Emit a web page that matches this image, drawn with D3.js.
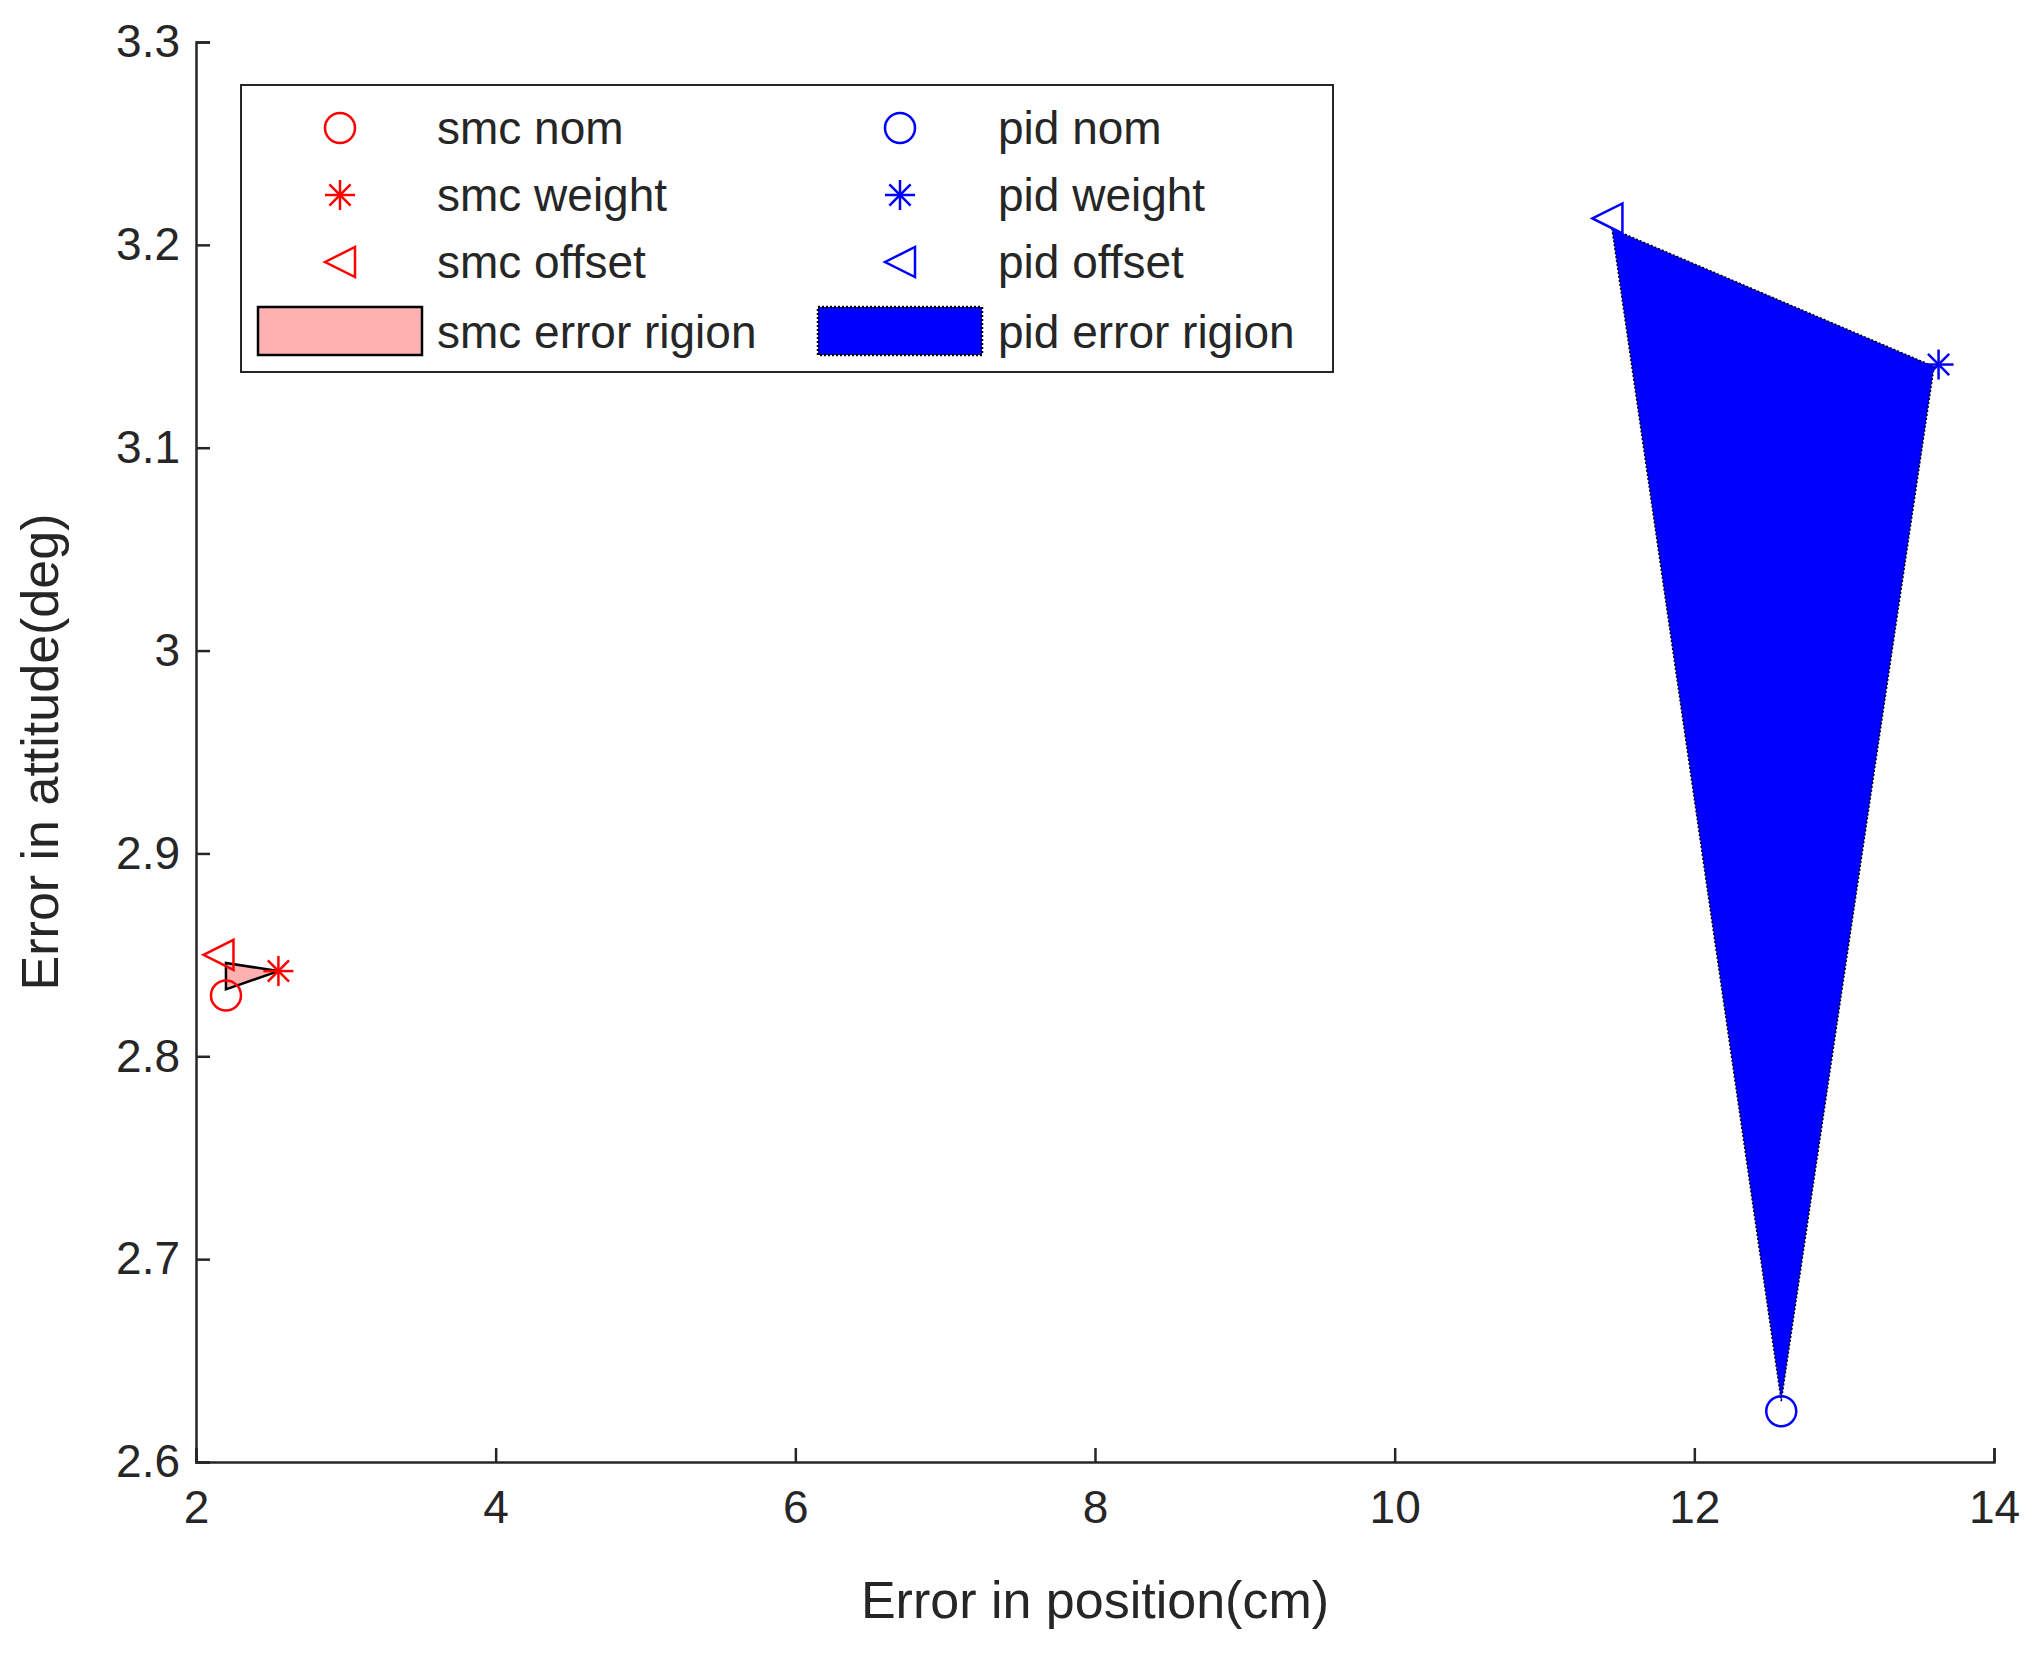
<!DOCTYPE html>
<html><head><meta charset="utf-8">
<script src="https://cdn.jsdelivr.net/npm/d3@7"></script>
<style>body{margin:0;background:#fff}text{font-family:"Liberation Sans",Arial,sans-serif;fill:#262626}</style>
</head><body><svg id="c" width="2036" height="1653"></svg>
<script>
const smcPoints = [{name: 'smc nom', x: 2.2, y: 2.83, shape: 'circle'},
  {name: 'smc weight', x: 2.55, y: 2.842, shape: 'star'},
  {name: 'smc offset', x: 2.15, y: 2.85, shape: 'tri'}];
const pidPoints = [{name: 'pid nom', x: 12.58, y: 2.625, shape: 'circle'},
  {name: 'pid weight', x: 13.63, y: 3.141, shape: 'star'},
  {name: 'pid offset', x: 11.42, y: 3.213, shape: 'tri'}];
const smcRegion = [[2.2, 2.833], [2.2, 2.846], [2.55, 2.842]];
const pidRegion = [[12.58, 2.63], [13.6, 3.14], [11.45, 3.208]];
const xTicks = [2, 4, 6, 8, 10, 12, 14];
const yTicks = [2.6, 2.7, 2.8, 2.9, 3, 3.1, 3.2, 3.3];

const svg = d3.select('#c');
const m = {l: 196, r: 1994, t: 42, b: 1462};
const x = d3.scaleLinear().domain([2, 14]).range([m.l, m.r]);
const y = d3.scaleLinear().domain([2.6, 3.3]).range([m.b, m.t]);

const line = d3.line().x(d => x(d[0])).y(d => y(d[1]));
svg.append('path').attr('d', line(pidRegion) + 'Z').attr('fill', '#0000ff')
  .attr('stroke', '#000').attr('stroke-width', 1.5).attr('stroke-dasharray', '2,2');
svg.append('path').attr('d', line(smcRegion) + 'Z').attr('fill', '#ffb0b0')
  .attr('stroke', '#000').attr('stroke-width', 2.5);

function marker(g, shape, color, s) {
  if (shape === 'circle') g.append('circle').attr('r', s).attr('fill', 'none').attr('stroke', color).attr('stroke-width', 2.5);
  else if (shape === 'tri') g.append('path').attr('d', `M${-s},0L${s},${-s}L${s},${s}Z`).attr('fill', 'none').attr('stroke', color).attr('stroke-width', 2.5);
  else {
    for (let a = 0; a < 180; a += 45) {
      const r = a * Math.PI / 180;
      g.append('line').attr('x1', -s * Math.cos(r)).attr('y1', -s * Math.sin(r))
        .attr('x2', s * Math.cos(r)).attr('y2', s * Math.sin(r)).attr('stroke', color).attr('stroke-width', 2.5);
    }
  }
}
smcPoints.forEach(p => marker(svg.append('g').attr('transform', `translate(${x(p.x)},${y(p.y)})`), p.shape, '#ff0000', 15));
pidPoints.forEach(p => marker(svg.append('g').attr('transform', `translate(${x(p.x)},${y(p.y)})`), p.shape, '#0000ff', 15));

const xa = svg.append('g').attr('transform', `translate(0,${m.b})`)
  .call(d3.axisBottom(x).tickValues(xTicks).tickSize(-14).tickPadding(20).tickFormat(d3.format('')));
const ya = svg.append('g').attr('transform', `translate(${m.l},0)`)
  .call(d3.axisLeft(y).tickValues(yTicks).tickSize(-14).tickPadding(16).tickFormat(d3.format('')));
[xa, ya].forEach(a => {
  a.selectAll('path,line').attr('stroke', '#262626').attr('stroke-width', 2.5);
  a.selectAll('text').style('font-size', '46px').attr('fill', '#262626');
});
xa.selectAll('text').attr('dy', '0.9em');

svg.append('text').attr('x', (m.l + m.r) / 2).attr('y', 1618).attr('text-anchor', 'middle')
  .style('font-size', '52px').text('Error in position(cm)');
svg.append('text').attr('transform', `translate(58,${(m.t + m.b) / 2}) rotate(-90)`).attr('text-anchor', 'middle')
  .style('font-size', '52px').text('Error in attitude(deg)');

// legend
const lg = svg.append('g');
lg.append('rect').attr('x', 241).attr('y', 85).attr('width', 1092).attr('height', 287)
  .attr('fill', '#fff').attr('stroke', '#262626').attr('stroke-width', 2);
const rows = [0, 1, 2];
const cols = [{pts: smcPoints, color: '#ff0000', x: 340, tx: 437, region: 'smc error rigion', fill: '#ffb0b0', dash: null},
  {pts: pidPoints, color: '#0000ff', x: 900, tx: 998, region: 'pid error rigion', fill: '#0000ff', dash: '2,2'}];
cols.forEach(c => {
  rows.forEach(i => {
    const ry = 128 + i * 67;
    marker(lg.append('g').attr('transform', `translate(${c.x},${ry})`), c.pts[i].shape, c.color, 15);
    lg.append('text').attr('x', c.tx).attr('y', ry).attr('dy', '0.35em').style('font-size', '46px').text(c.pts[i].name);
  });
  lg.append('rect').attr('x', c.x - 82).attr('y', 307).attr('width', 164).attr('height', 48)
    .attr('fill', c.fill).attr('stroke', '#000').attr('stroke-width', 2.5).attr('stroke-dasharray', c.dash);
  lg.append('text').attr('x', c.tx).attr('y', 332).attr('dy', '0.35em').style('font-size', '46px').text(c.region);
});
</script></body></html>
